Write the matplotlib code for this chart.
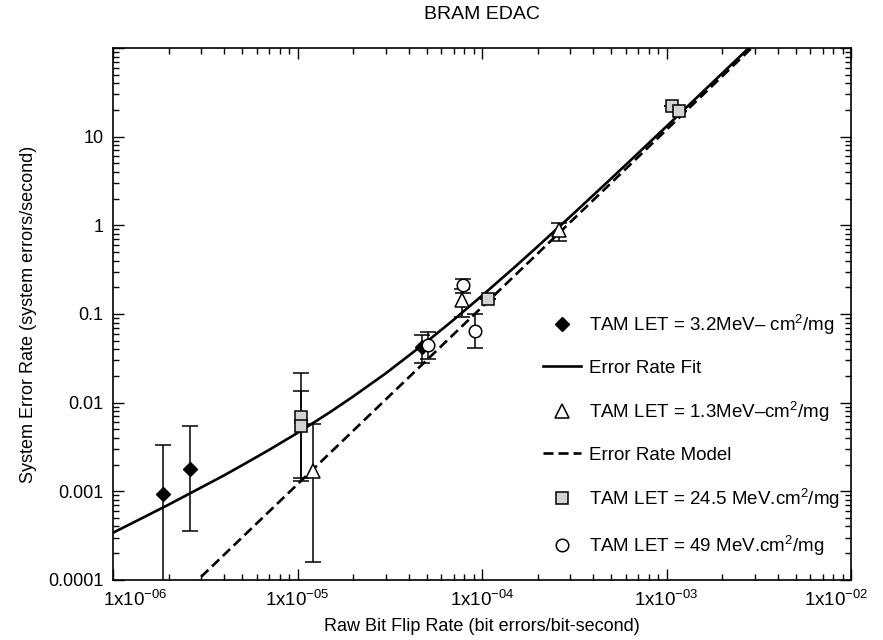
import matplotlib
matplotlib.use("Agg")
import matplotlib.pyplot as plt
import matplotlib.transforms as mtransforms
import numpy as np

plt.rcParams['font.family'] = ['Liberation Sans', 'DejaVu Sans']
plt.rcParams['mathtext.fontset'] = 'custom'
plt.rcParams['mathtext.rm'] = 'Liberation Sans'
plt.rcParams['mathtext.it'] = 'Liberation Sans:italic'
plt.rcParams['mathtext.default'] = 'regular'

# TAM LET = 3.2 (diamonds)
let32_x = [1.87e-6, 2.6e-6, 4.7e-5]
let32_y = [9.3e-4, 1.8e-3, 0.042]
let32_lo = [1e-5, 3.6e-4, 0.028]
let32_hi = [3.3e-3, 5.4e-3, 0.058]

# TAM LET = 1.3 (triangles)
let13_x = [1.21e-5, 7.8e-5, 2.6e-4]
let13_y = [1.7e-3, 0.143, 0.88]
let13_lo = [1.6e-4, 0.093, 0.66]
let13_hi = [5.8e-3, 0.19, 1.07]

# TAM LET = 24.5 (squares)
let245_x = [1.04e-5, 1.04e-5, 1.07e-4, 1.07e-3, 1.16e-3]
let245_y = [6.9e-3, 5.4e-3, 0.146, 22.0, 19.5]
let245_lo = [1.4e-3, 1.3e-3, 0.146, 22.0, 19.5]
let245_hi = [0.0215, 0.0135, 0.146, 22.0, 19.5]

# TAM LET = 49 (circles)
let49_x = [5.1e-5, 7.9e-5, 9.2e-5]
let49_y = [0.045, 0.21, 0.065]
let49_lo = [0.031, 0.17, 0.041]
let49_hi = [0.063, 0.25, 0.10]

# curves
fit_x = [1e-6, 1.5e-6, 2e-6, 3e-6, 4e-6, 5e-6, 7e-6, 1e-5, 1.5e-5, 2e-5, 3e-5, 5e-5,
         7e-5, 1e-4, 1.5e-4, 2e-4, 3e-4, 5e-4, 7e-4, 1e-3, 2e-3, 3e-3]
fit_y = [3.4e-4, 5.2e-4, 7.05e-4, 1.1e-3, 1.51e-3, 1.96e-3, 2.92e-3, 4.55e-3, 7.8e-3,
         1.17e-2, 2.13e-2, 4.84e-2, 8.56e-2, 0.161, 0.337, 0.577, 1.25, 3.36, 6.5,
         13.1, 51.8, 116]
model_x = [2e-6, 1e-5, 1e-4, 1e-3, 3e-3]
model_y = [4.8e-5, 1.2e-3, 0.12, 12.0, 108]

xticks = [1e-6, 1e-5, 1e-4, 1e-3, 1e-2]
xlabels = ["1x10$^{-06}$", "1x10$^{-05}$", "1x10$^{-04}$", "1x10$^{-03}$", "1x10$^{-02}$"]
yticks = [1e-4, 1e-3, 1e-2, 1e-1, 1, 10, 100]
ylabels = ["0.0001", "0.001", "0.01", "0.1", "1", "10", ""]

fig = plt.figure(figsize=(8.83, 6.4), dpi=100)
ax = fig.add_axes([0.128, 0.094, 0.836, 0.831])
ax.set_xscale('log')
ax.set_yscale('log')


def errs(y, lo, hi):
    y = np.array(y)
    return [y - np.array(lo), np.array(hi) - y]


ebkw = dict(fmt='none', ecolor='black', elinewidth=1.1, capsize=6, capthick=1.1, zorder=2)
ax.errorbar(let32_x, let32_y, yerr=errs(let32_y, let32_lo, let32_hi), **ebkw)
ax.errorbar(let13_x, let13_y, yerr=errs(let13_y, let13_lo, let13_hi), **ebkw)
ax.errorbar(let245_x, let245_y, yerr=errs(let245_y, let245_lo, let245_hi), **ebkw)
ax.errorbar(let49_x, let49_y, yerr=errs(let49_y, let49_lo, let49_hi), **ebkw)

ax.plot(fit_x, fit_y, color='black', lw=1.9, zorder=3, label='Error Rate Fit')
ax.plot(model_x, model_y, color='black', lw=1.9, ls=(0, (3.8, 1.9)), zorder=3, label='Error Rate Model')

ax.plot(let32_x, let32_y, 'D', ms=7.5, mfc='black', mec='black', zorder=4,
        label='TAM LET = 3.2MeV\u2013 cm$^2$/mg')
ax.plot(let13_x, let13_y, '^', ms=10, mfc='white', mec='black', mew=1.1, zorder=4,
        label='TAM LET = 1.3MeV\u2013cm$^2$/mg')
ax.plot(let245_x, let245_y, 's', ms=8.5, mfc='#d3d3d3', mec='black', mew=1.1, zorder=4,
        label='TAM LET = 24.5 MeV.cm$^2$/mg')
ax.plot(let49_x, let49_y, 'o', ms=9, mfc='white', mec='black', mew=1.1, zorder=4,
        label='TAM LET = 49 MeV.cm$^2$/mg')

ax.set_xlim(1e-6, 1e-2)
ax.set_ylim(1e-4, 100)
ax.set_xticks(xticks)
ax.set_xticklabels(xlabels)
ax.set_yticks(yticks)
ax.set_yticklabels(ylabels)
ax.tick_params(which='both', direction='in', top=True, right=True, labelsize=13)
ax.tick_params(axis='x', labelsize=13.5)
ax.tick_params(which='major', length=8, width=1, pad=7)
ax.tick_params(which='minor', length=4.5, width=1)
for s in ax.spines.values():
    s.set_linewidth(1.2)

# end labels are pulled inward in the reference
xtl = ax.get_xticklabels()
xtl[0].set_transform(xtl[0].get_transform() + mtransforms.ScaledTranslation(22 / 100, 0, fig.dpi_scale_trans))
xtl[-1].set_transform(xtl[-1].get_transform() + mtransforms.ScaledTranslation(-15 / 100, 0, fig.dpi_scale_trans))

ax.set_title('BRAM EDAC', fontsize=14, pad=21)
ax.set_xlabel('Raw Bit Flip Rate (bit errors/bit-second)', fontsize=13, labelpad=6)
ax.set_ylabel('System Error Rate (system errors/second)', fontsize=13, labelpad=8)

handles, labels = ax.get_legend_handles_labels()
order = ['TAM LET = 3.2MeV\u2013 cm$^2$/mg', 'Error Rate Fit', 'TAM LET = 1.3MeV\u2013cm$^2$/mg',
         'Error Rate Model', 'TAM LET = 24.5 MeV.cm$^2$/mg', 'TAM LET = 49 MeV.cm$^2$/mg']
hmap = dict(zip(labels, handles))
ax.legend([hmap[l] for l in order], order, loc='lower right', bbox_to_anchor=(1.0, 0.02),
          frameon=False, fontsize=13.5, labelspacing=1.22, handlelength=2.0,
          handletextpad=0.45, borderaxespad=0.2)

fig.savefig('out.png', dpi=100)
